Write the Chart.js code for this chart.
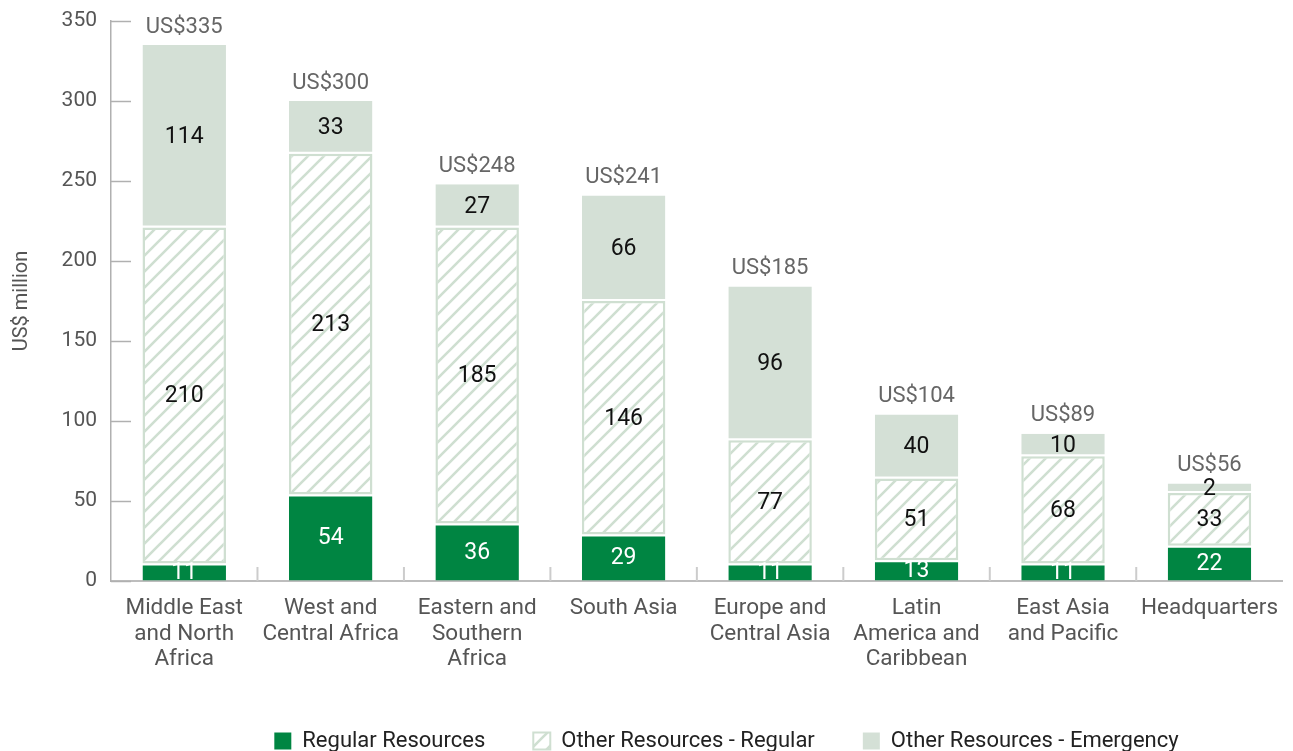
<!DOCTYPE html>
<html>
<head>
<meta charset="utf-8">
<script src="https://cdn.jsdelivr.net/npm/chart.js@4/dist/chart.umd.min.js"></script>
<style>
html,body{margin:0;padding:0;overflow:hidden;background:#fff;}
#wrap{width:1293px;height:751px;overflow:hidden;position:relative;}
</style>
</head>
<body>
<div id="wrap"><canvas id="c" width="1293" height="762"></canvas></div>
<script>
// ---- data ----
const categories = [
  ["Middle East","and North","Africa"],
  ["West and","Central Africa"],
  ["Eastern and","Southern","Africa"],
  ["South Asia"],
  ["Europe and","Central Asia"],
  ["Latin","America and","Caribbean"],
  ["East Asia","and Pacific"],
  ["Headquarters"]
];
const regularResources = [11, 54, 36, 29, 11, 13, 11, 22];
const otherRegular = [210, 213, 185, 146, 77, 51, 67, 33];
const otherEmergency = [114, 33, 27, 66, 96, 40, 14, 6];
const regularLabels = ["11","54","36","29","11","13","11","22"];
const otherRegularLabels = ["210","213","185","146","77","51","68","33"];
const emergencyLabels = ["114","33","27","66","96","40","10","2"];
const totalLabels = ["US$335","US$300","US$248","US$241","US$185","US$104","US$89","US$56"];
const yTicks = [0, 50, 100, 150, 200, 250, 300, 350];
const seriesNames = ["Regular Resources","Other Resources - Regular","Other Resources - Emergency"];

const GREEN = '#008542';
const PALE = '#d4e0d6';
const HATCH = '#cfdfd1';
const FONT = 'Roboto, "Liberation Sans", Arial, sans-serif';

function makeHatch(){
  const s = 16;
  const cv = document.createElement('canvas');
  cv.width = s; cv.height = s;
  const g = cv.getContext('2d');
  g.fillStyle = '#fff'; g.fillRect(0,0,s,s);
  g.strokeStyle = HATCH; g.lineWidth = 2.6;
  g.beginPath();
  g.moveTo(0, s); g.lineTo(s, 0);
  g.moveTo(-s/2, s/2); g.lineTo(s/2, -s/2);
  g.moveTo(s/2, s*1.5); g.lineTo(s*1.5, s/2);
  g.stroke();
  return g.createPattern(cv, 'repeat');
}
const ctx0 = document.getElementById('c').getContext('2d');
const hatch = makeHatch();

const labelPlugin = {
  id: 'segLabels',
  afterDatasetsDraw(chart){
    const ctx = chart.ctx;
    ctx.save();
    ctx.textAlign = 'center';
    ctx.textBaseline = 'middle';
    chart.data.datasets.forEach((ds, di) => {
      const meta = chart.getDatasetMeta(di);
      meta.data.forEach((el, i) => {
        const yc = (el.y + el.base) / 2;
        ctx.font = '400 23px ' + FONT;
        ctx.fillStyle = di === 0 ? '#ffffff' : '#111111';
        ctx.fillText(ds.valueLabels[i], el.x, yc + 1);
        if (di === chart.data.datasets.length - 1) {
          ctx.font = '400 22px ' + FONT;
          ctx.fillStyle = '#666666';
          ctx.fillText(totalLabels[i], el.x, el.y - 18);
        }
      });
    });
    ctx.restore();
  }
};

const axisTickPlugin = {
  id: 'innerTicks',
  beforeDatasetsDraw(chart){
    const ctx = chart.ctx;
    const ys = chart.scales.y, xs = chart.scales.x;
    ctx.save();
    ctx.strokeStyle = '#b0b0b0';
    ctx.lineWidth = 1.5;
    yTicks.forEach(v => {
      const py = Math.round(ys.getPixelForValue(v)) + 0.5;
      ctx.beginPath(); ctx.moveTo(ys.right, py); ctx.lineTo(ys.right + 20, py); ctx.stroke();
    });
    ctx.strokeStyle = '#cccccc';
    ctx.lineWidth = 2;
    for (let i = 1; i < categories.length; i++) {
      const px = (xs.getPixelForValue(i - 1) + xs.getPixelForValue(i)) / 2;
      ctx.beginPath(); ctx.moveTo(px, xs.top); ctx.lineTo(px, xs.top - 14); ctx.stroke();
    }
    ctx.restore();
  }
};

const legendShift = {
  id: 'legendShift',
  afterLayout(chart){
    if (chart.legend) { chart.legend.left += 160; chart.legend.top += 0; }
  }
};

new Chart(ctx0, {
  type: 'bar',
  data: {
    labels: categories,
    datasets: [
      { label: seriesNames[0], data: regularResources, valueLabels: regularLabels,
        backgroundColor: GREEN, borderColor: '#ffffff', borderWidth: {top: 2, bottom: 0, left: 0, right: 0}, borderSkipped: false },
      { label: seriesNames[1], data: otherRegular, valueLabels: otherRegularLabels,
        backgroundColor: hatch, borderColor: HATCH, borderWidth: 2.5, borderSkipped: false },
      { label: seriesNames[2], data: otherEmergency, valueLabels: emergencyLabels,
        backgroundColor: PALE, borderColor: '#ffffff', borderWidth: {bottom: 2, top: 0, left: 0, right: 0}, borderSkipped: false }
    ]
  },
  options: {
    responsive: false,
    animation: false,
    devicePixelRatio: 1,
    layout: { padding: { top: 21, left: 0, right: 0, bottom: 0 } },
    datasets: { bar: { categoryPercentage: 1, barPercentage: 0.57 } },
    scales: {
      x: {
        stacked: true,
        grid: { display: true, drawOnChartArea: false, drawTicks: false },
        border: { display: true, color: '#bdbdbd', width: 2 },
        ticks: { color: '#555555', font: { family: FONT, size: 22.5, lineHeight: 1.135 }, padding: 15, maxRotation: 0, autoSkip: false },
        afterFit(s){ s.height = 101; }
      },
      y: {
        stacked: true,
        min: 0, max: 350,
        afterBuildTicks(s){ s.ticks = yTicks.map(v => ({value: v})); },
        grid: { display: true, drawOnChartArea: false, drawTicks: false },
        border: { display: true, color: '#b0b0b0', width: 1.5 },
        ticks: { color: '#555555', font: { family: FONT, size: 21 }, padding: 14 },
        title: { display: true, text: 'US$ million', color: '#555555', font: { family: FONT, size: 20 }, padding: { top: 10, bottom: 0 } },
        afterFit(s){ s.width = 111; s.paddingTop = 0; s.paddingBottom = 0; }
      }
    },
    plugins: {
      legend: {
        position: 'bottom',
        labels: {
          boxWidth: 17, boxHeight: 17, padding: 48, color: '#222222',
          font: { family: FONT, size: 22 },
          generateLabels(chart){
            return chart.data.datasets.map((ds, i) => ({
              text: ds.label,
              fillStyle: i === 1 ? hatch : ds.backgroundColor,
              strokeStyle: i === 1 ? HATCH : ds.backgroundColor,
              lineWidth: i === 1 ? 2 : 0,
              fontColor: '#222222',
              hidden: false,
              datasetIndex: i
            }));
          }
        }
      },
      tooltip: { enabled: false }
    }
  },
  plugins: [labelPlugin, axisTickPlugin, legendShift]
});
</script>
</body>
</html>
